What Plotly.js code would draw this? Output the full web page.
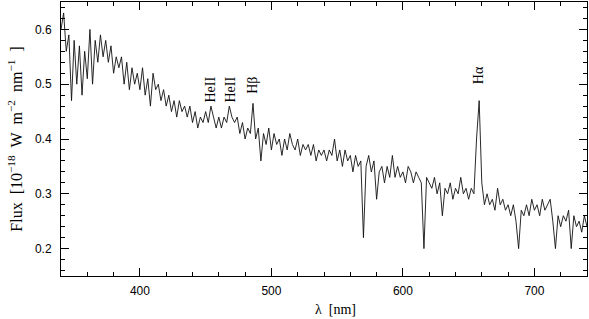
<!DOCTYPE html>
<html>
<head>
<meta charset="utf-8">
<script src="https://cdn.plot.ly/plotly-3.0.1.min.js"></script>
<style>
html,body{margin:0;padding:0;background:#fff}
#chart{width:589px;height:319px}
</style>
</head>
<body>
<div id="chart"></div>
<script>

/* SPECTRUM (2 nm steps) */

const wavelength = [
340,342,344,346,348,350,352,354,356,358,360,362,364,366,368,370,372,374,376,378,
380,382,384,386,388,390,392,394,396,398,400,402,404,406,408,410,412,414,416,418,
420,422,424,426,428,430,432,434,436,438,440,442,444,446,448,450,452,454,456,458,
460,462,464,466,468,470,472,474,476,478,480,482,484,486,488,490,492,494,496,498,
500,502,504,506,508,510,512,514,516,518,520,522,524,526,528,530,532,534,536,538,
540,542,544,546,548,550,552,554,556,558,560,562,564,566,568,570,572,574,576,578,
580,582,584,586,588,590,592,594,596,598,600,602,604,606,608,610,612,614,616,618,
620,622,624,626,628,630,632,634,636,638,640,642,644,646,648,650,652,654,656,658,
660,662,664,666,668,670,672,674,676,678,680,682,684,686,688,690,692,694,696,698,
700,702,704,706,708,710,712,714,716,718,720,722,724,726,728,730,732,734,736,738,
740
]

const flux = [
0.600,0.630,0.560,0.590,0.470,0.580,0.500,0.570,0.480,0.560,0.510,0.600,0.500,0.580,0.540,0.590,0.550,0.580,0.540,0.570,
0.520,0.550,0.530,0.550,0.500,0.540,0.490,0.530,0.500,0.520,0.490,0.530,0.480,0.510,0.460,0.520,0.490,0.500,0.470,0.490,
0.460,0.480,0.450,0.470,0.440,0.470,0.450,0.460,0.440,0.460,0.430,0.450,0.420,0.440,0.430,0.450,0.430,0.460,0.440,0.420,
0.440,0.420,0.440,0.430,0.460,0.440,0.430,0.440,0.410,0.430,0.400,0.420,0.410,0.465,0.400,0.420,0.360,0.410,0.390,0.420,
0.380,0.410,0.390,0.400,0.370,0.400,0.380,0.410,0.390,0.380,0.400,0.370,0.390,0.380,0.390,0.370,0.390,0.360,0.380,0.370,
0.380,0.360,0.380,0.370,0.400,0.360,0.380,0.350,0.380,0.360,0.370,0.340,0.370,0.350,0.360,0.220,0.350,0.370,0.340,0.360,
0.290,0.340,0.350,0.320,0.350,0.330,0.370,0.330,0.350,0.330,0.340,0.320,0.350,0.340,0.320,0.340,0.330,0.320,0.200,0.330,
0.320,0.310,0.330,0.300,0.320,0.260,0.310,0.300,0.320,0.290,0.310,0.300,0.330,0.300,0.310,0.290,0.310,0.300,0.400,0.470,
0.320,0.280,0.300,0.280,0.290,0.270,0.310,0.280,0.290,0.270,0.280,0.260,0.280,0.250,0.200,0.270,0.260,0.280,0.260,0.290,
0.270,0.280,0.260,0.290,0.270,0.280,0.290,0.250,0.200,0.260,0.240,0.260,0.250,0.270,0.200,0.260,0.240,0.250,0.230,0.260,
0.240
]

/* LINE LABELS */

const lineNames = ["HeII","HeII","H\u03b2","H\u03b1"]
const linePos = [454,469,486,657]
const labelTop = [0.514,0.514,0.514,0.533]

const serif = "Liberation Serif, DejaVu Serif, serif"
const sans = "Liberation Sans, Arial, sans-serif"

let annotations = lineNames.map((name,i)=>({
x:linePos[i],
y:labelTop[i],
xref:"x",
yref:"y",
text:name,
textangle:0,
showarrow:false,
xanchor:"center",
yanchor:"middle",
font:{family:serif,size:14,color:"#000"}
}))

/* x title as an annotation: it sits right of the axis centre */
annotations.push({
x:0.522,
y:-0.124,
xref:"paper",
yref:"paper",
text:"\u03bb\u00a0\u00a0[nm]",
showarrow:false,
xanchor:"center",
yanchor:"middle",
font:{family:serif,size:14,color:"#000"}
})

const axisStyle = {
showline:true,
linecolor:"#000",
linewidth:1,
mirror:"ticks",
ticks:"inside",
ticklen:8,
tickwidth:1,
tickcolor:"#000",
showgrid:false,
zeroline:false,
tickfont:{family:sans,size:12,color:"#000"}
}

/* stand the line labels upright with one plain rotate(),
   pivot chosen so the rotated text's top lands on labelTop */

function rotateLabels(gd){

let ya = gd._fullLayout.yaxis
let top = gd._fullLayout.margin.t

let texts = gd.querySelectorAll(".annotation .annotation-text")

for(let i=0;i<lineNames.length;i++){

let t = texts[i]
if(!t) continue

let r = t.getBoundingClientRect()
let bb = t.getBBox()
let cx = bb.x + bb.width/2
let cy = bb.y + bb.height/2

let wantTop = top + ya.l2p(labelTop[i])
let dy = wantTop - (r.top + r.height/2 - r.width/2)
let cy2 = cy + dy

let px = (2*cx - cy + cy2)/2
let py = (cy + cy2)/2

t.setAttribute("transform","rotate(-90,"+px.toFixed(2)+","+py.toFixed(2)+")")

}

}

Plotly.newPlot("chart",[{

x:wavelength,
y:flux,
type:"scatter",
mode:"lines",
line:{color:"#111",width:0.9},
hoverinfo:"skip"

}],

{
width:589,
height:319,
margin:{l:61,r:2,t:2,b:43},
paper_bgcolor:"#fff",
plot_bgcolor:"#fff",
showlegend:false,
annotations:annotations,

xaxis:Object.assign({},axisStyle,{
range:[340,740],
dtick:100,
tick0:0,
ticklabelstandoff:4,
minor:{dtick:20,ticks:"inside",ticklen:4,tickcolor:"#000"}
}),

yaxis:Object.assign({},axisStyle,{
range:[0.15,0.65],
dtick:0.1,
tick0:0,
ticklabelstandoff:6,
minor:{dtick:0.02,ticks:"inside",ticklen:4,tickcolor:"#000"},
title:{text:"Flux\u00a0\u00a0[10<sup>\u221218</sup>\u00a0\u00a0W\u00a0\u00a0m<sup>\u22122</sup>\u00a0\u00a0nm<sup>\u22121</sup>\u00a0\u00a0]",font:{family:serif,size:16,color:"#000"},standoff:8}
})
},

{displayModeBar:false}

).then(rotateLabels)

</script>
</body>
</html>
